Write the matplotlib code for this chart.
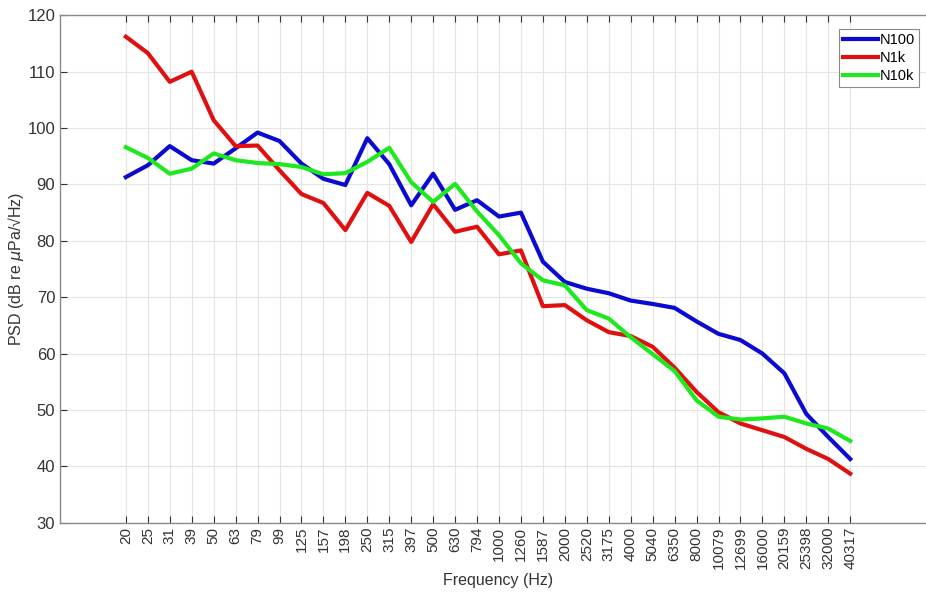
import matplotlib.pyplot as plt
import numpy as np

plt.rcParams["font.family"] = ["Liberation Sans", "DejaVu Sans"]

frequencies = [
    "20", "25", "31", "39", "50", "63", "79", "99", "125", "157", "198",
    "250", "315", "397", "500", "630", "794", "1000", "1260", "1587",
    "2000", "2520", "3175", "4000", "5040", "6350", "8000", "10079",
    "12699", "16000", "20159", "25398", "32000", "40317",
]

n100 = [
    91.3, 93.4, 96.8, 94.3, 93.7, 96.4, 99.2, 97.7, 93.7, 91.0, 89.9,
    98.2, 93.6, 86.3, 91.9, 85.5, 87.2, 84.3, 85.0, 76.3,
    72.7, 71.5, 70.7, 69.4, 68.8, 68.1, 65.7, 63.5,
    62.4, 60.0, 56.5, 49.3, 45.2, 41.3,
]
n1k = [
    116.2, 113.3, 108.2, 110.0, 101.4, 96.8, 96.9, 92.5, 88.3, 86.7, 81.9,
    88.5, 86.2, 79.8, 86.5, 81.6, 82.5, 77.6, 78.3, 68.4,
    68.6, 65.9, 63.8, 63.1, 61.2, 57.5, 53.2, 49.6,
    47.6, 46.4, 45.2, 43.1, 41.3, 38.7,
]
n10k = [
    96.6, 94.7, 91.9, 92.8, 95.5, 94.3, 93.8, 93.6, 93.1, 91.8, 92.0,
    94.0, 96.5, 90.4, 86.9, 90.1, 85.2, 81.0, 76.0, 73.0,
    72.1, 67.7, 66.2, 62.9, 59.9, 56.9, 51.7, 48.8,
    48.3, 48.5, 48.8, 47.6, 46.7, 44.5,
]

series = [("N100", n100, "#0a0ad0"), ("N1k", n1k, "#e01010"), ("N10k", n10k, "#1ee81e")]

fig = plt.figure(figsize=(9.26, 5.92), dpi=100)
# axes box runs past the right edge of the figure, as in the reference crop
ax = fig.add_axes([60 / 926, 1 - 522.7 / 592, 878 / 926, (522.7 - 15.3) / 592])

x = np.arange(len(frequencies))
for name, values, color in series:
    ax.plot(x, values, color=color, linewidth=3, label=name)

ax.set_xlim(-3, 37)
ax.set_ylim(30, 120)
ax.set_xticks(x)
ax.set_xticklabels(frequencies, rotation=90, fontsize=11, color="#333333")
ax.set_yticks(np.arange(30, 121, 10))
ax.tick_params(axis="y", labelsize=12, colors="#333333", direction="in",
               length=5, width=0.8)
ax.tick_params(axis="x", direction="in", length=5, width=0.8, top=True,
               colors="#333333", pad=3)
ax.grid(True, color="#e4e4e4", linewidth=0.8)
ax.set_axisbelow(True)
for spine in ax.spines.values():
    spine.set_color("#8a8a8a")
    spine.set_linewidth(1.0)

ax.set_xlabel("Frequency (Hz)", fontsize=11.5, color="#333333")
ax.xaxis.set_label_coords(0.5 * (498 - 60) / 439, -(573 - 522.7) / 507.4)
ax.set_ylabel(r"PSD (dB re $\mu$Pa/√Hz)", fontsize=11.5, color="#333333")
ax.yaxis.set_label_coords(-(60 - 26) / 878, 0.5)

leg = ax.legend(loc="upper right", bbox_to_anchor=(919 / 926, 1 - 29 / 592),
                bbox_transform=fig.transFigure, fontsize=10.5,
                handlelength=2.4, handletextpad=0.1, borderpad=0.3,
                labelspacing=0.25, fancybox=False, framealpha=1,
                edgecolor="#8a8a8a", borderaxespad=0)
leg.get_frame().set_linewidth(0.8)

fig.savefig("out.png", dpi=100)
